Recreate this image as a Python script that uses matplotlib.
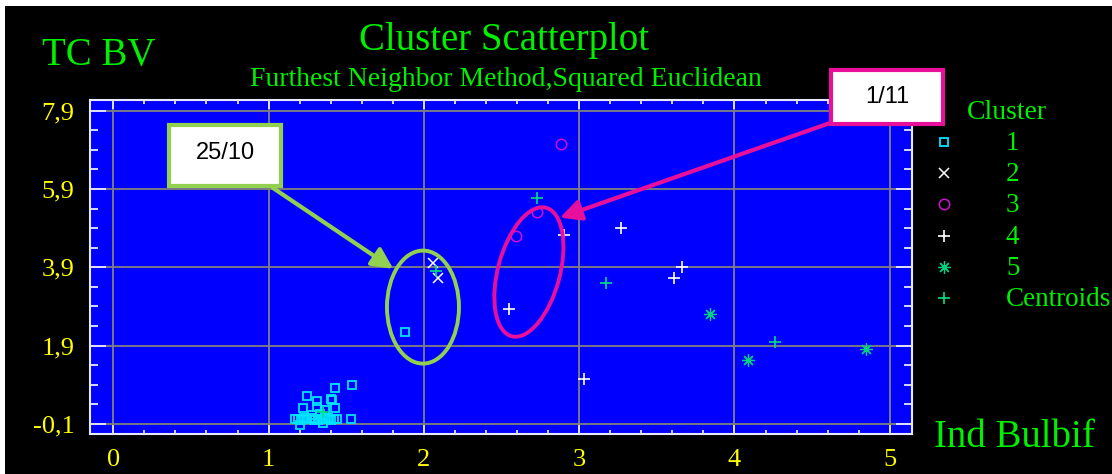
import matplotlib
matplotlib.use('Agg')
import matplotlib.pyplot as plt
import matplotlib.transforms as mtransforms
from matplotlib.patches import Ellipse, Rectangle
from matplotlib.lines import Line2D
from matplotlib.ticker import FixedLocator, FixedFormatter, MultipleLocator

# cluster members
c1_x = [1.88, 1.54, 1.43, 1.25, 1.31, 1.40, 1.41, 1.22, 1.43, 1.31, 1.36,
        1.17, 1.19, 1.21, 1.23, 1.25, 1.27, 1.29, 1.30, 1.32, 1.34, 1.36,
        1.38, 1.40, 1.42, 1.44, 1.53, 1.20, 1.35, 1.28, 1.33]
c1_y = [2.26, 0.90, 0.81, 0.62, 0.49, 0.55, 0.51, 0.32, 0.32, 0.34, 0.25,
        0.02, 0.04, 0.00, 0.05, 0.02, 0.06, 0.01, 0.03, 0.00, 0.04, 0.02,
        0.05, 0.01, 0.03, 0.02, 0.02, -0.13, -0.08, 0.12, 0.16]
c2_x = [2.06, 2.09]
c2_y = [4.01, 3.62]
c3_x = [2.88, 2.73, 2.59]
c3_y = [7.04, 5.30, 4.69]
c4_x = [2.55, 2.90, 3.27, 3.03, 3.61, 3.66]
c4_y = [2.83, 4.73, 4.90, 1.06, 3.63, 3.90]
c5_x = [3.84, 4.09, 4.85]
c5_y = [2.70, 1.53, 1.81]
cent_x = [1.35, 2.08, 2.73, 3.17, 4.26]
cent_y = [0.20, 3.80, 5.67, 3.50, 2.00]

legend_labels = ['1', '2', '3', '4', '5', 'Centroids']
xticks = [0, 1, 2, 3, 4, 5]
xtick_labels = ['0', '1', '2', '3', '4', '5']
yticks = [-0.1, 1.9, 3.9, 5.9, 7.9]
ytick_labels = ['-0,1', '1,9', '3,9', '5,9', '7,9']

GREEN = '#00F000'
YELLOW = '#FFFF00'
LIME = '#92D050'
PINK = '#E8109A'
SERIF = 'Liberation Serif'

W, H = 1112, 474


def fx(px):
  return px / W

def fy(py):
  return 1 - py / H


fig = plt.figure(figsize=(W/100, H/100), dpi=100, facecolor='white')
fig.add_artist(Rectangle((fx(5), 0), 1, fy(6), transform=fig.transFigure,
                         facecolor='black', edgecolor='none', zorder=-10))

ax = fig.add_axes([fx(90), fy(434), fx(822), 334/H])
ax.set_facecolor('#0000FF')
ax.set_xlim(-0.15, 5.143)
ax.set_ylim(-0.354, 8.17)

styles = [
  dict(x=c1_x, y=c1_y, marker='s', color='#00E5FF', ms=5.8, mew=1.3, mfc='none'),
  dict(x=c2_x, y=c2_y, marker='x', color='white', ms=7, mew=1.1, mfc='none'),
  dict(x=c3_x, y=c3_y, marker='o', color='#D010D0', ms=7.5, mew=1.1, mfc='none'),
  dict(x=c4_x, y=c4_y, marker='+', color='white', ms=8, mew=1.2, mfc='none'),
  dict(x=c5_x, y=c5_y, marker=(8, 2, 0), color='#00D080', ms=9, mew=0.9, mfc='none'),
  dict(x=cent_x, y=cent_y, marker='+', color='#00E080', ms=9, mew=1.2, mfc='none'),
]
for s in styles:
  ax.plot(s['x'], s['y'], linestyle='none', marker=s['marker'], color=s['color'],
          markersize=s['ms'], markeredgewidth=s['mew'], markerfacecolor=s['mfc'],
          zorder=3)

ax.xaxis.set_major_locator(FixedLocator(xticks))
ax.xaxis.set_major_formatter(FixedFormatter(xtick_labels))
ax.xaxis.set_minor_locator(MultipleLocator(0.2))
ax.yaxis.set_major_locator(FixedLocator(yticks))
ax.yaxis.set_major_formatter(FixedFormatter(ytick_labels))
ax.yaxis.set_minor_locator(FixedLocator([-0.1 + 0.5*k for k in range(17)]))
ax.grid(True, which='major', color='#808080', linewidth=1.3, zorder=1)
ax.set_axisbelow(True)

ax.tick_params(axis='both', which='both', direction='in', colors='#E8E8FF',
               top=True, right=True, width=1.3)
ax.tick_params(axis='y', which='major', length=11.5, pad=11)
ax.tick_params(axis='y', which='minor', length=5.8)
ax.tick_params(axis='x', which='major', length=6.5, pad=11)
ax.tick_params(axis='x', which='minor', length=3)
for lab in ax.get_xticklabels() + ax.get_yticklabels():
  lab.set_color(YELLOW)
  lab.set_fontfamily(SERIF)
  lab.set_fontsize(19)
for sp in ax.spines.values():
  sp.set_color('#E8E8FF')
  sp.set_linewidth(1.5)

# highlight ellipses, sized in inches and anchored in data
def ring(cx, cy, w, h, angle, color):
  trans = fig.dpi_scale_trans + mtransforms.ScaledTranslation(cx, cy, ax.transData)
  ax.add_patch(Ellipse((0, 0), w, h, angle=angle, transform=trans, fill=False,
                       edgecolor=color, linewidth=2.8, zorder=4))

ring(1.994, 2.885, 0.72, 1.13, 0, LIME)
ring(2.676, 3.78, 0.62, 1.33, -15, PINK)

# arrows from the note boxes
ax.annotate('', xy=(1.803, 3.862), xycoords='data',
            xytext=(fx(273), fy(188)), textcoords='figure fraction',
            arrowprops=dict(arrowstyle='-|>,head_length=0.9,head_width=0.45',
                            color=LIME, lw=3, shrinkA=0, shrinkB=0,
                            mutation_scale=14), zorder=5)
ax.annotate('', xy=(2.876, 5.167), xycoords='data',
            xytext=(fx(830), fy(123)), textcoords='figure fraction',
            arrowprops=dict(arrowstyle='-|>,head_length=0.9,head_width=0.45',
                            color=PINK, lw=3, shrinkA=0, shrinkB=0,
                            mutation_scale=14), zorder=5)

# note boxes
fig.add_artist(Rectangle((fx(169), fy(186)), fx(112), 61/H, transform=fig.transFigure,
                         facecolor='white', edgecolor=LIME, linewidth=3, zorder=6))
fig.text(fx(225), fy(153), '25/10', fontsize=17, family='Liberation Sans',
         ha='center', va='center', color='black', zorder=7)
fig.add_artist(Rectangle((fx(831), fy(124)), fx(112), 54/H, transform=fig.transFigure,
                         facecolor='white', edgecolor=PINK, linewidth=3, zorder=6))
fig.text(fx(887), fy(97), '1/11', fontsize=17, family='Liberation Sans',
         ha='center', va='center', color='black', zorder=7)

# titles and axis names
fig.text(fx(504), fy(50), 'Cluster Scatterplot', fontsize=28, family=SERIF,
         color=GREEN, ha='center', va='baseline')
fig.text(fx(506), fy(86), 'Furthest Neighbor Method,Squared Euclidean', fontsize=20,
         family=SERIF, color=GREEN, ha='center', va='baseline')
fig.text(fx(42), fy(65), 'TC BV', fontsize=28, family=SERIF, color=GREEN,
         ha='left', va='baseline')
fig.text(fx(934), fy(447), 'Ind Bulbif', fontsize=28, family=SERIF, color=GREEN,
         ha='left', va='baseline')

# legend drawn by hand to keep the wide marker/label gap
fig.text(fx(967), fy(119), 'Cluster', fontsize=20, family=SERIF, color=GREEN,
         ha='left', va='baseline')
for i, (s, lab) in enumerate(zip(styles, legend_labels)):
  yrow = 142 + 31.2*i
  fig.add_artist(Line2D([fx(944)], [fy(yrow)], transform=fig.transFigure,
                        linestyle='none', marker=s['marker'], color=s['color'],
                        markersize=s['ms'], markeredgewidth=s['mew'],
                        markerfacecolor=s['mfc']))
  fig.text(fx(1006), fy(yrow + 8), lab, fontsize=19.5, family=SERIF, color=GREEN,
           ha='left', va='baseline')

fig.savefig('out.png', dpi=100, facecolor=fig.get_facecolor())
